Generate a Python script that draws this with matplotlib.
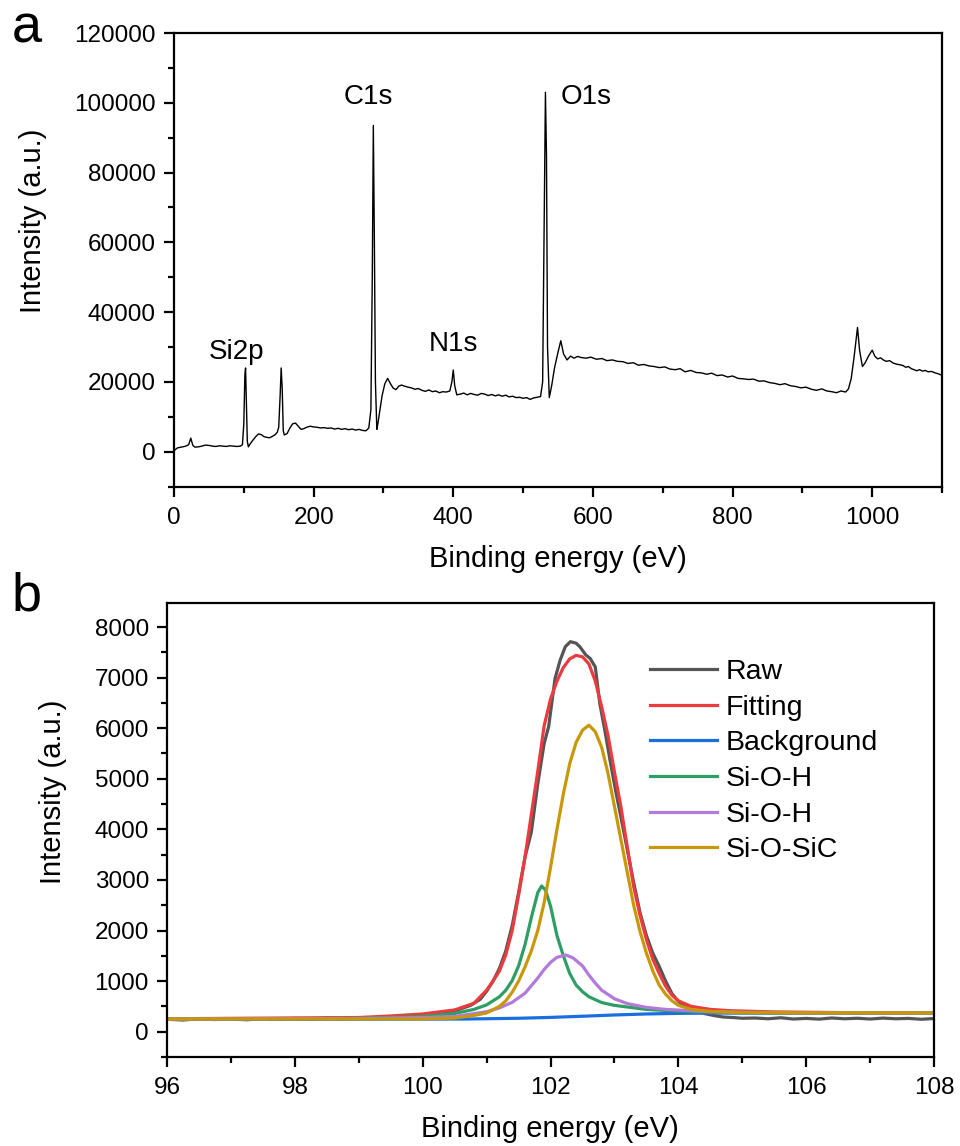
import matplotlib
matplotlib.use("Agg")
import matplotlib.pyplot as plt
from matplotlib.ticker import MultipleLocator

plt.rcParams['font.family'] = ['Liberation Sans', 'DejaVu Sans']

# ---------------- Panel a: survey spectrum ----------------
survey_be = [0, 5, 10, 15, 18, 21, 24, 27, 30, 35, 40, 45, 50, 55, 60, 65, 70, 75, 80, 85, 90, 95, 98,
             100, 101.5, 102.5, 103.5, 105, 106.5, 109, 113, 117, 121, 125, 129, 133, 137, 141, 145, 148,
             150, 152, 153.5, 155, 156.5, 158, 162, 166, 170, 174, 178, 182, 186, 190, 195, 200, 205, 210,
             215, 220, 225, 230, 235, 240, 245, 250, 255, 260, 265, 270, 275, 279, 282, 284, 285.5, 287,
             288.5, 290.5, 292, 295, 298, 302, 306, 310, 314, 318, 322, 326, 330, 335, 340, 345, 350, 355,
             360, 365, 370, 375, 380, 385, 390, 395, 398, 400, 402, 405, 410, 415, 420, 425, 430, 435, 440,
             445, 450, 455, 460, 465, 470, 475, 480, 485, 490, 495, 500, 505, 510, 515, 520, 525, 528, 530,
             532, 533.5, 535, 537.5, 541, 545, 550, 554, 558, 563, 568, 573, 578, 583, 590, 597, 605, 613,
             620, 628, 635, 643, 650, 658, 665, 673, 680, 688, 695, 703, 710, 718, 725, 732, 740, 748, 755,
             763, 770, 778, 785, 793, 800, 808, 815, 823, 830, 838, 845, 853, 860, 868, 875, 883, 890, 898,
             905, 913, 920, 928, 935, 942, 949, 955, 962, 966, 970, 974, 979, 982, 986, 990, 995, 1000,
             1004, 1008, 1012, 1016, 1020, 1025, 1030, 1035, 1040, 1044, 1048, 1052, 1056, 1060, 1064,
             1068, 1072, 1076, 1080, 1085, 1090, 1095, 1100]
survey_cts = [300, 1100, 1300, 1500, 1700, 2000, 3900, 1800, 1300, 1400, 1600, 1900, 1800, 1600, 1500, 1700,
              1600, 1500, 1700, 1600, 1500, 1600, 2000,
              8000, 22000, 24000, 16000, 3000, 1400, 2200, 3300, 4300, 5100, 4900, 4300, 4100, 4000, 4400,
              4900, 5600,
              7000, 16000, 24000, 18000, 6000, 4800, 5200, 6800, 8000, 8200, 7300, 6400, 6600, 7000, 7300,
              7100, 7000, 6800,
              6900, 6700, 6800, 6500, 6700, 6400, 6600, 6300, 6500, 6200, 6400, 6100, 6000, 6800, 12000,
              50000, 93500, 60000,
              20000, 6400, 8000, 12000, 16000, 19500, 21000, 19500, 18200, 17800, 18800, 19100, 18800,
              18500, 18300, 17900, 18100, 17600,
              17300, 17700, 17200, 17400, 16900, 17200, 17100, 17400, 20000, 23400, 19000, 16300, 16500,
              16800, 16300, 16700, 16400, 16200, 16700,
              16500, 16100, 16400, 16000, 16300, 15900, 16200, 15700, 15900, 15500, 15600, 15300, 15500,
              15000, 15400, 15600, 15800, 20000, 60000,
              103000, 85000, 30000, 15500, 19000, 24000, 28500, 31800, 28000, 26300, 27400, 26800, 27300,
              27000, 26800, 27100, 26500, 26700,
              26100, 26300, 25900, 25800, 25300, 25500, 24800, 25000, 24600, 24400, 24100, 24300, 23700,
              23500, 23800, 22900, 23300, 22700, 22600,
              22200, 22500, 21800, 22000, 21400, 21700, 21000, 20900, 20700, 20800, 20200, 20300, 19800,
              19600, 19200, 19500, 18900, 18700, 18300,
              18500, 17900, 17600, 18000, 17400, 17200, 16900, 17400, 17100, 18000, 21000, 27000, 35600,
              29000, 24400, 25500, 27500, 29100,
              27300, 26600, 26900, 26300, 25900, 26100, 25400, 25100, 24900, 24700, 24200, 24400, 23800,
              23500, 23200,
              23500, 23100, 23300, 22900, 23000, 22600, 22300, 21900]

peak_labels = ["Si2p", "C1s", "N1s", "O1s"]
peak_label_x = [89, 278, 400, 590]
peak_label_y = [28700, 101700, 31000, 101700]

# ---------------- Panel b: Si 2p high resolution ----------------
raw_be = [96, 96.25, 96.5, 96.75, 97, 97.25, 97.5, 97.75, 98, 98.25, 98.5, 98.75, 99, 99.25, 99.5, 99.75,
          100, 100.25, 100.5, 100.75, 100.9, 101.0, 101.1, 101.2, 101.3, 101.4, 101.5, 101.6, 101.7,
          101.8, 101.9, 101.97, 102.07, 102.15, 102.23, 102.31, 102.4, 102.46, 102.55, 102.62, 102.7,
          102.77, 102.85, 102.93, 103.02, 103.11, 103.2, 103.3, 103.4, 103.5, 103.6, 103.7, 103.8, 103.9,
          104.0, 104.1, 104.25, 104.4, 104.55, 104.7, 104.85, 105.0, 105.2, 105.4, 105.6, 105.8, 106.0,
          106.2, 106.4, 106.6, 106.8, 107.0, 107.2, 107.4, 107.6, 107.8, 108.0]
raw_int = [245, 230, 255, 240, 250, 235, 258, 245, 262, 248, 270, 255, 275, 262, 290, 300,
           330, 360, 410, 520, 640, 800, 1000, 1250, 1600, 2100, 2750, 3450, 3950,
           4900, 5700, 6030, 6980, 7345, 7610, 7710, 7680, 7608, 7450, 7378, 7210,
           6490, 5950, 5370, 4750, 4183, 3600, 2950, 2350, 1900, 1550, 1290, 1000, 750,
           600, 500, 420, 360, 320, 290, 280, 265, 270, 255, 275, 250, 262,
           248, 270, 255, 265, 250, 268, 255, 262, 245, 260]

fit_be = [96, 99, 99.5, 100.0, 100.5, 100.8, 101.0, 101.1, 101.2, 101.3, 101.4, 101.5, 101.6, 101.7,
          101.8, 101.9, 102.0, 102.1, 102.2, 102.3, 102.4, 102.5, 102.6, 102.7, 102.8, 102.9, 103.0,
          103.1, 103.2, 103.3, 103.4, 103.5, 103.6, 103.7, 103.8, 103.9, 104.0, 104.2, 104.5, 104.8,
          105.5, 106.5, 108]
fit_int = [255, 280, 310, 350, 430, 560, 820, 1000, 1200, 1520, 2000, 2700, 3450, 4300,
           5150, 6050, 6580, 6930, 7200, 7370, 7440, 7410, 7270, 6930, 6420, 5850, 5130,
           4450, 3650, 2870, 2300, 1820, 1430, 1150, 900, 720, 610, 500, 440, 415,
           390, 378, 372]

bg_be = [96, 100, 100.7, 101.5, 102, 102.5, 103, 103.5, 104, 104.5, 105, 108]
bg_int = [245, 248, 250, 265, 282, 305, 330, 350, 362, 367, 368, 368]

sioh1_be = [96, 98, 99, 99.5, 100, 100.5, 100.8, 101.0, 101.2, 101.3, 101.4, 101.5, 101.6, 101.7, 101.8,
            101.86, 101.92, 102.0, 102.1, 102.2, 102.3, 102.4, 102.5, 102.6, 102.8, 103.0, 103.5, 104.0,
            104.5, 105, 106, 108]
sioh1_int = [250, 255, 265, 280, 300, 360, 440, 530, 690, 820, 1010, 1300, 1720, 2260, 2750,
             2880, 2800, 2480, 1900, 1500, 1150, 920, 790, 690, 575, 520, 440, 405,
             385, 375, 370, 368]

sioh2_be = [96, 99, 100, 100.5, 101.0, 101.2, 101.4, 101.6, 101.8, 101.9, 102.0, 102.1, 102.24, 102.35,
            102.5, 102.6, 102.7, 102.8, 103.0, 103.2, 103.5, 103.8, 104.5, 105, 106, 108]
sioh2_int = [250, 262, 280, 300, 395, 470, 580, 760, 1060, 1230, 1370, 1470, 1516, 1460,
             1300, 1120, 960, 820, 650, 555, 480, 440, 395, 385, 375, 370]

siosic_be = [96, 100, 100.5, 100.8, 101.0, 101.2, 101.3, 101.4, 101.5, 101.6, 101.7, 101.8, 101.9, 102.0,
             102.1, 102.2, 102.3, 102.4, 102.5, 102.6, 102.7, 102.8, 102.9, 103.0, 103.1, 103.2, 103.3,
             103.4, 103.5, 103.6, 103.7, 103.8, 103.9, 104.0, 104.2, 104.5, 105, 106, 108]
siosic_int = [250, 252, 270, 320, 370, 500, 610, 780, 1000, 1280, 1600, 2000, 2550, 3250,
              4000, 4700, 5300, 5720, 5960, 6060, 5930, 5620, 5100, 4450, 3800, 3150, 2500,
              1980, 1550, 1200, 920, 740, 610, 520, 440, 400, 380, 372, 370]

series_b = [
    ("Raw", raw_be, raw_int, "#555555"),
    ("Fitting", fit_be, fit_int, "#eb3b3f"),
    ("Background", bg_be, bg_int, "#1a6fe0"),
    ("Si-O-H", sioh1_be, sioh1_int, "#2e9e64"),
    ("Si-O-H", sioh2_be, sioh2_int, "#b27ad9"),
    ("Si-O-SiC", siosic_be, siosic_int, "#c9980a"),
]

# ---------------- Figure ----------------
fig = plt.figure(figsize=(9.6, 11.46), dpi=100)
ax1 = fig.add_axes([0.18125, 0.5754, 0.8, 0.3958])
ax2 = fig.add_axes([0.174, 0.0777, 0.799, 0.3959])

TICK_FS = 17.5
LABEL_FS = 21

def style(ax):
    for s in ax.spines.values():
        s.set_linewidth(1.6)
    ax.tick_params(which='both', direction='out', top=False, right=False, width=1.6,
                   labelsize=TICK_FS)
    ax.tick_params(axis='x', which='major', length=7, pad=7.5)
    ax.tick_params(axis='y', which='major', length=7, pad=6)
    ax.tick_params(which='minor', length=4)

ax1.plot(survey_be, survey_cts, color='black', lw=1.0)
ax1.set_xlim(0, 1100)
ax1.set_ylim(-10000, 120000)
ax1.xaxis.set_major_locator(MultipleLocator(200))
ax1.xaxis.set_minor_locator(MultipleLocator(100))
ax1.yaxis.set_major_locator(MultipleLocator(20000))
ax1.yaxis.set_minor_locator(MultipleLocator(10000))
style(ax1)
for lab, lx, ly in zip(peak_labels, peak_label_x, peak_label_y):
    ax1.text(lx, ly, lab, ha='center', va='center', fontsize=20)
ax1.set_xlabel("Binding energy (eV)", fontsize=LABEL_FS)
ax1.set_ylabel("Intensity (a.u.)", fontsize=LABEL_FS)
ax1.xaxis.set_label_coords(0.5, -0.128)
ax1.yaxis.set_label_coords(-0.166, 0.585)

for name, xs, ys, c in series_b:
    ax2.plot(xs, ys, color=c, lw=2.3, label=name)
ax2.set_xlim(96, 108)
ax2.set_ylim(-500, 8470)
ax2.xaxis.set_major_locator(MultipleLocator(2))
ax2.xaxis.set_minor_locator(MultipleLocator(1))
ax2.yaxis.set_major_locator(MultipleLocator(1000))
ax2.yaxis.set_minor_locator(MultipleLocator(500))
style(ax2)
ax2.set_xlabel("Binding energy (eV)", fontsize=LABEL_FS)
ax2.set_ylabel("Intensity (a.u.)", fontsize=LABEL_FS)
ax2.xaxis.set_label_coords(0.4995, -0.128)
ax2.yaxis.set_label_coords(-0.131, 0.585)
ax2.legend(loc='upper left', bbox_to_anchor=(0.63, 0.877), frameon=False, fontsize=20.5,
           handlelength=2.35, handletextpad=0.3, labelspacing=0.34, borderpad=0, borderaxespad=0)

fig.text(0.0125, 0.9625, "a", fontsize=39, ha='left', va='baseline')
fig.text(0.0125, 0.4677, "b", fontsize=39, ha='left', va='baseline')

fig.savefig("out.png", dpi=100, facecolor='white')
